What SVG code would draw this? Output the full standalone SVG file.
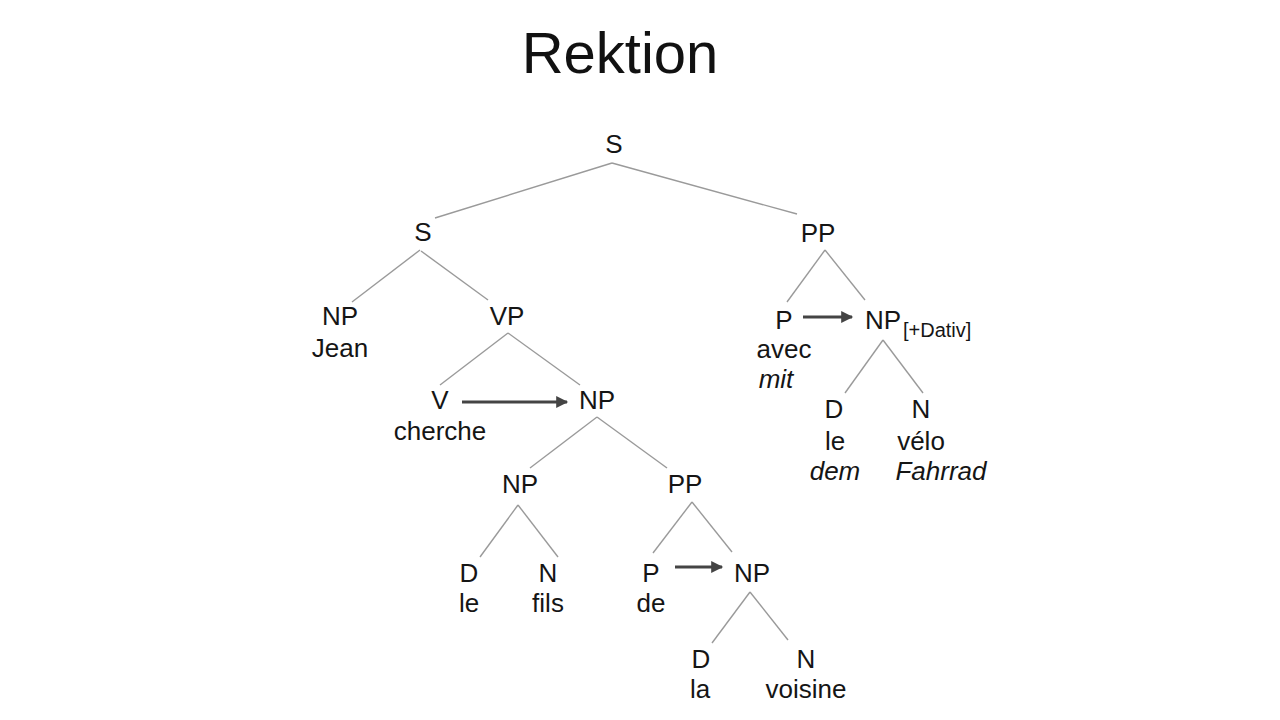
<svg xmlns="http://www.w3.org/2000/svg" width="1280" height="720" viewBox="0 0 1280 720">
<style>
text{font-family:"Liberation Sans",Arial,sans-serif;fill:#151515}
.t{font-size:58px;text-anchor:middle;fill:#111}
.l{font-size:26px;text-anchor:middle}
.i{font-style:italic}
.sub{font-size:20px}
.e{stroke:#9a9a9a;stroke-width:1.4;fill:none}
.a{stroke:#444;stroke-width:3;fill:none}
</style>
<defs>
<marker id="ah" viewBox="0 0 10 10" refX="9" refY="5" markerWidth="4.8" markerHeight="4" orient="auto" markerUnits="strokeWidth">
<path d="M0,0 L10,5 L0,10 Z" fill="#444"/>
</marker>
</defs>
<rect width="1280" height="720" fill="#fff"/>
<text class="t" x="620" y="73">Rektion</text>
<g id="connectors">
<line class="e" x1="612" y1="163" x2="435" y2="218"/>
<line class="e" x1="612" y1="163" x2="797" y2="214"/>
<line class="e" x1="420" y1="250" x2="352" y2="302"/>
<line class="e" x1="421" y1="251" x2="488" y2="300"/>
<line class="e" x1="508" y1="333" x2="440" y2="385"/>
<line class="e" x1="508" y1="333" x2="580" y2="385"/>
<line class="e" x1="597" y1="417" x2="530" y2="468"/>
<line class="e" x1="597" y1="417" x2="667" y2="468"/>
<line class="e" x1="518" y1="505" x2="480" y2="557"/>
<line class="e" x1="518" y1="505" x2="558" y2="557"/>
<line class="e" x1="692" y1="502" x2="653" y2="553"/>
<line class="e" x1="692" y1="502" x2="732" y2="552"/>
<line class="e" x1="750" y1="592" x2="712" y2="643"/>
<line class="e" x1="750" y1="592" x2="788" y2="640"/>
<line class="e" x1="825" y1="250" x2="787" y2="302"/>
<line class="e" x1="825" y1="250" x2="865" y2="300"/>
<line class="e" x1="883" y1="340" x2="845" y2="393"/>
<line class="e" x1="883" y1="340" x2="923" y2="393"/>
<line class="a" x1="462" y1="402" x2="567" y2="402" marker-end="url(#ah)"/>
<line class="a" x1="675" y1="567" x2="722" y2="567" marker-end="url(#ah)"/>
<line class="a" x1="803" y1="317" x2="852" y2="317" marker-end="url(#ah)"/>
</g>
<g id="n-S-root"><text class="l" x="614" y="153">S</text></g>
<g id="n-S"><text class="l" x="423" y="241">S</text></g>
<g id="n-PP-right"><text class="l" x="818" y="242">PP</text></g>
<g id="n-NP-Jean"><text class="l" x="340" y="325">NP</text><text class="l" x="340" y="357">Jean</text></g>
<g id="n-VP"><text class="l" x="507" y="325">VP</text></g>
<g id="n-P-avec"><text class="l" x="784" y="329">P</text><text class="l" x="784" y="358">avec</text><text class="l i" x="776" y="388">mit</text></g>
<g id="n-NP-Dativ"><text class="l" x="865" y="329" style="text-anchor:start">NP</text><text class="sub" x="903" y="337">[+Dativ]</text></g>
<g id="n-D-le-dem"><text class="l" x="834" y="418">D</text><text class="l" x="835" y="450">le</text><text class="l i" x="835" y="480">dem</text></g>
<g id="n-N-velo"><text class="l" x="921" y="418">N</text><text class="l" x="921" y="450">vélo</text><text class="l i" x="941" y="480">Fahrrad</text></g>
<g id="n-V"><text class="l" x="440" y="409">V</text><text class="l" x="440" y="440">cherche</text></g>
<g id="n-NP-obj"><text class="l" x="597" y="409">NP</text></g>
<g id="n-NP-fils"><text class="l" x="520" y="493">NP</text></g>
<g id="n-PP-de"><text class="l" x="685" y="493">PP</text></g>
<g id="n-D-le"><text class="l" x="469" y="582">D</text><text class="l" x="469" y="612">le</text></g>
<g id="n-N-fils"><text class="l" x="548" y="582">N</text><text class="l" x="548" y="612">fils</text></g>
<g id="n-P-de"><text class="l" x="651" y="582">P</text><text class="l" x="651" y="612">de</text></g>
<g id="n-NP-voisine"><text class="l" x="752" y="582">NP</text></g>
<g id="n-D-la"><text class="l" x="701" y="668">D</text><text class="l" x="700" y="698">la</text></g>
<g id="n-N-voisine"><text class="l" x="806" y="668">N</text><text class="l" x="806" y="698">voisine</text></g>
</svg>
